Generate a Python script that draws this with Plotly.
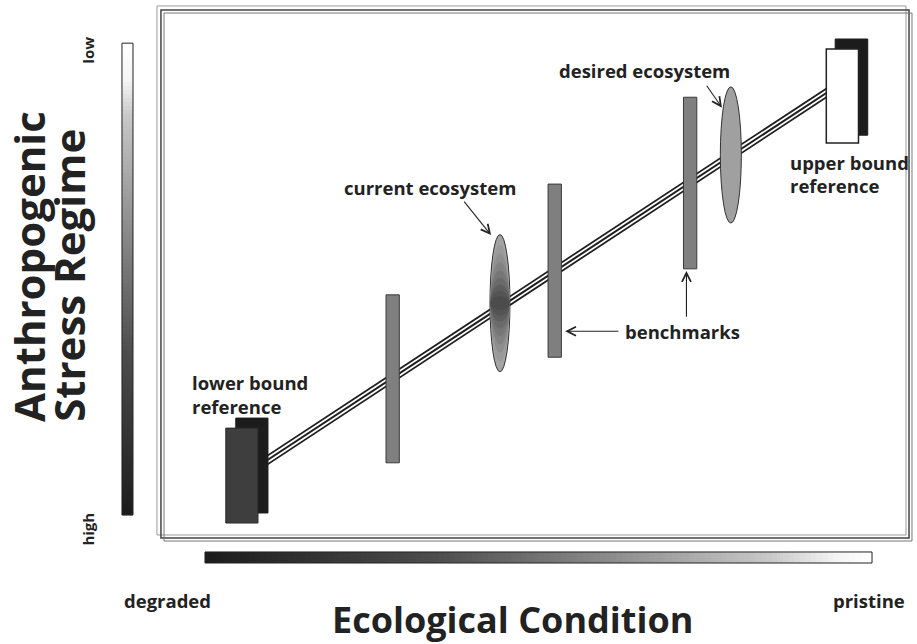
import numpy as np
import plotly.graph_objects as go

# ---- conceptual data (x = ecological condition 0-100, y = stress score 0-100, 100 = low stress) ----
trend_condition = [11.6, 91.4]
trend_stress = [11.8, 86.4]

benchmark_condition = [30.9, 52.8, 71.1]
benchmark_stress_low = [13.5, 33.8, 50.8]
benchmark_stress_high = [45.8, 67.1, 83.8]

ecosystem_names = ["current ecosystem", "desired ecosystem"]
ecosystem_condition = [45.4, 76.6]
ecosystem_stress = [44.2, 72.7]
ecosystem_spread = [13.2, 13.1]

lower_ref_condition = [9.7, 14.05]   # back block
lower_ref_stress = [3.85, 22.1]
upper_ref_condition = [90.7, 95.1]
upper_ref_stress = [76.5, 95.0]

x_labels = ["degraded", "pristine"]
y_labels = ["high", "low"]
x_title = "Ecological Condition"
y_title = ["Anthropogenic", "Stress Regime"]

DARK = "#1e1e1e"
FONT = "Open Sans"

fig = go.Figure()

# gradient bars (colour ramps)
nh = 120
ramp = [[0, "#1c1c1c"], [0.35, "#4e4e4e"], [0.6, "#8a8a8a"], [0.85, "#c8c8c8"], [0.95, "#f4f4f4"], [1, "#ffffff"]]
xh = np.linspace(5.54, 95.68, nh + 1)
fig.add_trace(go.Heatmap(x=xh, y=[-5.77, -3.65], z=[list(range(nh))],
                         colorscale=ramp, showscale=False, hoverinfo="skip"))
yv = np.linspace(3.46, 94.2, nh + 1)
fig.add_trace(go.Heatmap(x=[-5.68, -4.19], y=yv, z=[[i] for i in range(nh)],
                         colorscale=[[0, "#1c1c1c"], [0.35, "#4e4e4e"], [0.6, "#8a8a8a"], [0.85, "#c8c8c8"], [0.92, "#f4f4f4"], [1, "#ffffff"]],
                         showscale=False, hoverinfo="skip"))

# triple trend line
for w, c in [(9, DARK), (5.5, "#ffffff"), (2, DARK)]:
    fig.add_trace(go.Scatter(x=trend_condition, y=trend_stress, mode="lines",
                             line=dict(color=c, width=w), hoverinfo="skip", showlegend=False))

shapes = []
# frame
for (x0, x1, y0, y1, col, lw) in [(-0.95, 100.27, -0.38, 101.35, "#9a9a9a", 1),
                                  (-0.41, 100.68, -0.96, 100.58, "#444444", 1.5),
                                  (0.0, 101.08, -1.54, 100.0, "#777777", 1)]:
    shapes.append(dict(type="rect", xref="x", yref="y", x0=x0, x1=x1, y0=y0, y1=y1,
                       line=dict(color=col, width=lw), fillcolor="rgba(0,0,0,0)", layer="below"))
# gradient bar borders
shapes.append(dict(type="rect", x0=5.54, x1=95.68, y0=-5.77, y1=-3.65, line=dict(color="#222", width=1)))
shapes.append(dict(type="rect", x0=-5.68, x1=-4.19, y0=3.46, y1=94.2, line=dict(color="#222", width=1)))

# benchmarks
bw = 0.9
for cx, lo, hi in zip(benchmark_condition, benchmark_stress_low, benchmark_stress_high):
    shapes.append(dict(type="rect", x0=cx - bw, x1=cx + bw, y0=lo, y1=hi,
                       fillcolor="#7f7f7f", line=dict(color="#3a3a3a", width=1)))

# current ecosystem ellipse with darker core
cx, cy, sp = ecosystem_condition[0], ecosystem_stress[0], ecosystem_spread[0]
ew = 1.35
shapes.append(dict(type="circle", x0=cx - ew, x1=cx + ew, y0=cy - sp, y1=cy + sp,
                   fillcolor="#a4a4a4", line=dict(color="#333", width=1)))
for f, col in [(0.85, "#9a9a9a"), (0.72, "#8e8e8e"), (0.6, "#828282"), (0.48, "#767676"),
               (0.37, "#6a6a6a"), (0.27, "#5e5e5e"), (0.18, "#545454"), (0.1, "#4c4c4c")]:
    shapes.append(dict(type="circle", x0=cx - ew * 0.96, x1=cx + ew * 0.96, y0=cy - sp * f, y1=cy + sp * f,
                       fillcolor=col, line=dict(width=0)))
# desired ecosystem ellipse
cx, cy, sp = ecosystem_condition[1], ecosystem_stress[1], ecosystem_spread[1]
ew = 1.42
shapes.append(dict(type="circle", x0=cx - ew, x1=cx + ew, y0=cy - sp, y1=cy + sp,
                   fillcolor="#a0a0a0", line=dict(color="#333", width=1)))

# reference blocks (back + front)
shapes.append(dict(type="rect", x0=lower_ref_condition[0], x1=lower_ref_condition[1],
                   y0=lower_ref_stress[0], y1=lower_ref_stress[1], fillcolor="#1c1c1c", line=dict(color="#1c1c1c", width=1)))
shapes.append(dict(type="rect", x0=lower_ref_condition[0] - 1.35, x1=lower_ref_condition[1] - 1.35,
                   y0=lower_ref_stress[0] - 1.93, y1=lower_ref_stress[1] - 1.93, fillcolor="#3e3e3e", line=dict(color="#2a2a2a", width=1)))
shapes.append(dict(type="rect", x0=upper_ref_condition[0], x1=upper_ref_condition[1],
                   y0=upper_ref_stress[0], y1=upper_ref_stress[1], fillcolor="#1c1c1c", line=dict(color="#1c1c1c", width=1)))
shapes.append(dict(type="rect", x0=upper_ref_condition[0] - 1.2, x1=upper_ref_condition[1] - 1.25,
                   y0=upper_ref_stress[0] - 1.5, y1=upper_ref_stress[1] - 1.9, fillcolor="#ffffff", line=dict(color="#222", width=1.5)))
fig.update_layout(shapes=shapes)

lab = dict(family=FONT, size=18.5, color="#222", weight=700)
ann = []
def text(x, y, t, xanchor="center", yanchor="middle", font=lab, **kw):
    ann.append(dict(x=x, y=y, xref="x", yref="y", text=t, showarrow=False, xanchor=xanchor,
                    yanchor=yanchor, font=font, **kw))

def arrow(x, y, ax, ay):
    ann.append(dict(x=x, y=y, ax=ax, ay=ay, xref="x", yref="y", axref="x", ayref="y", text="",
                    showarrow=True, arrowhead=5, arrowsize=1.6, arrowwidth=1.1, arrowcolor="#222"))

text(35.9, 66.4, ecosystem_names[0])
arrow(44.2, 57.3, 40.4, 64.0)
text(64.9, 88.9, ecosystem_names[1])
arrow(75.4, 81.8, 73.2, 86.3)
text(70.0, 38.8, "benchmarks")
arrow(54.2, 38.8, 61.6, 38.8)
arrow(70.6, 50.4, 70.6, 41.3)
text(84.3, 71.2, "upper bound", xanchor="left")
text(84.3, 66.8, "reference", xanchor="left")
text(3.5, 28.9, "lower bound", xanchor="left")
text(3.5, 24.3, "reference", xanchor="left")

# axis-like labels
small = dict(family=FONT, size=18.5, color="#222", weight=700)
text(0.45, -12.9, x_labels[0], font=small)
text(95.3, -12.9, x_labels[1], font=small)
tiny = dict(family=FONT, size=15, color="#222", weight=700)
text(-10.3, 0.8, y_labels[0], textangle=-90, font=tiny)
text(-10.3, 92.9, y_labels[1], textangle=-90, font=tiny)
text(47.1, -16.6, x_title, font=dict(family=FONT, size=36, color="#222", weight=700))
ytf = dict(family=FONT, size=42, color="#222", weight=700)
text(-18.3, 21.0, y_title[0], textangle=-90, yanchor="bottom", font=ytf)
text(-12.9, 21.0, y_title[1], textangle=-90, yanchor="bottom", font=ytf)
fig.update_layout(annotations=ann)

fig.update_layout(
    width=917, height=644, autosize=False,
    margin=dict(l=0, r=0, t=0, b=0),
    paper_bgcolor="white", plot_bgcolor="white",
    showlegend=False,
    xaxis=dict(range=[-22.162, 101.757], visible=False, fixedrange=True),
    yaxis=dict(range=[-21.346, 102.5], visible=False, fixedrange=True),
)
fig.write_html("out.html", config={"displayModeBar": False},
               post_script="document.body.style.margin='0';")
